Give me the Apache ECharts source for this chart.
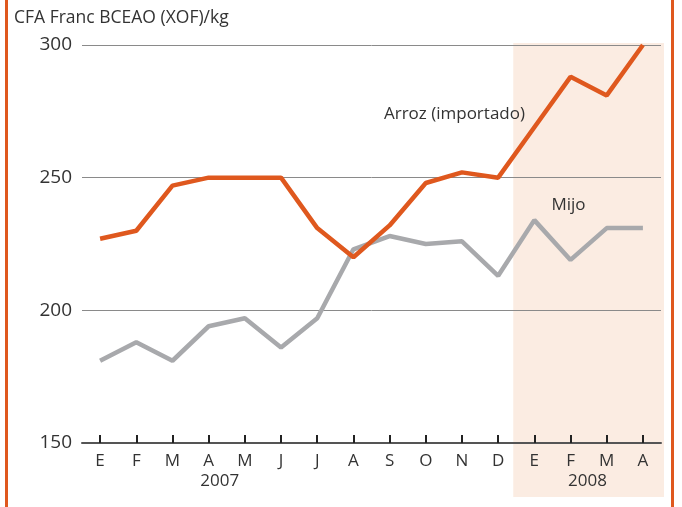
<!DOCTYPE html>
<html>
<head>
<meta charset="utf-8">
<script src="https://cdn.jsdelivr.net/npm/echarts@6/dist/echarts.min.js"></script>
<style>
  html, body { margin: 0; padding: 0; background: #fff; }
  #chart { width: 682px; height: 507px; }
</style>
</head>
<body>
<div id="chart"></div>
<script>
const months = ['E', 'F', 'M', 'A', 'M', 'J', 'J', 'A', 'S', 'O', 'N', 'D', 'E', 'F', 'M', 'A'];
const arroz = [227, 230, 247, 250, 250, 250, 231, 220, 232, 248, 252, 250, 269, 288, 281, 300];
const mijo = [181, 188, 181, 194, 197, 186, 197, 223, 228, 225, 226, 213, 234, 219, 231, 231];
const yTicks = [150, 200, 250, 300];
const years = [{ text: '2007', at: 3, shift: 11 }, { text: '2008', at: 13, shift: 17 }];

// category keys kept unique, labels show the month letter only
const cats = months.map((m, i) => m + '_' + i);
const orange = '#DF581E';
const grey = '#A8A9AC';
const font = '"Open Sans", "Noto Sans", sans-serif';

const dom = document.getElementById('chart');
const myChart = echarts.init(dom);

const option = {
  animation: false,
  grid: { left: 82, right: 21, top: 45, bottom: 64 },
  xAxis: {
    type: 'category',
    data: cats,
    boundaryGap: true,
    axisLine: { lineStyle: { color: '#555', width: 2 } },
    axisTick: { show: true, inside: true, alignWithLabel: true, length: 8, lineStyle: { color: '#222', width: 2 } },
    axisLabel: {
      formatter: (v) => v.split('_')[0],
      color: '#333', fontSize: 17, fontFamily: font, margin: 10,
    },
  },
  yAxis: {
    type: 'value',
    min: yTicks[0],
    max: yTicks[yTicks.length - 1],
    interval: 50,
    axisLine: { show: false },
    axisTick: { show: false },
    axisLabel: { color: '#333', fontSize: 19, fontFamily: font, margin: 10 },
    splitLine: { lineStyle: { color: '#8a8a8a', width: 1 } },
  },
  series: [
    {
      name: 'Mijo', type: 'line', data: mijo, showSymbol: false,
      lineStyle: { color: grey, width: 4.5 }, z: 3,
    },
    {
      name: 'Arroz (importado)', type: 'line', data: arroz, showSymbol: false,
      lineStyle: { color: orange, width: 4.5 }, z: 4,
    },
  ],
};
myChart.setOption(option);

// decorations placed from the chart's own scales
const px = (i, v) => myChart.convertToPixel({ xAxisIndex: 0, yAxisIndex: 0 }, [i, v]);
const band = px(1, 300)[0] - px(0, 300)[0];
const shadeL = px(12, 300)[0] - band / 2 - 3;
const shadeR = px(15, 300)[0] + band / 2 + 3;
const shadeTop = px(0, 300)[1] - 2;
const axisY = px(0, 150)[1];

const graphics = [
  { type: 'rect', z: -10, silent: true,
    shape: { x: shadeL, y: shadeTop, width: shadeR - shadeL, height: 497 - shadeTop },
    style: { fill: '#FBECE2' } },
  { type: 'rect', z: 10, shape: { x: 5, y: 0, width: 3, height: 507 }, style: { fill: orange } },
  { type: 'rect', z: 10, shape: { x: 671, y: 0, width: 3, height: 507 }, style: { fill: orange } },
  { type: 'text', x: 14, y: 18,
    style: { text: 'CFA Franc BCEAO (XOF)/kg', fill: '#333', fontSize: 17.5, fontFamily: font, verticalAlign: 'middle' } },
];
years.forEach((y) => {
  const x = px(y.at, 150)[0] + y.shift;
  graphics.push({ type: 'text', x: x, y: axisY + 38,
    style: { text: y.text, fill: '#333', fontSize: 17, fontFamily: font, align: 'center', verticalAlign: 'middle' } });
});
const a = px(10, 274);
graphics.push({ type: 'text', x: a[0] + 63, y: a[1],
  style: { text: 'Arroz (importado)', fill: '#333', fontSize: 17, fontFamily: font, align: 'right', verticalAlign: 'middle' } });
const m = px(13, 239.7);
graphics.push({ type: 'text', x: m[0] - 2, y: m[1],
  style: { text: 'Mijo', fill: '#333', fontSize: 17, fontFamily: font, align: 'center', verticalAlign: 'middle' } });

myChart.setOption({ graphic: graphics });
</script>
</body>
</html>
